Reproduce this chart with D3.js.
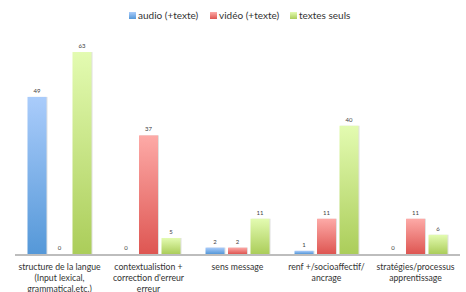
<!DOCTYPE html>
<html>
<head>
<meta charset="utf-8">
<script src="https://cdn.jsdelivr.net/npm/d3@7"></script>
<style>
  body { margin: 0; background: #fff; }
  svg { display: block; }
  text { font-family: Lato, "Liberation Sans", sans-serif; }
</style>
</head>
<body>
<script>
// data
var categories = [
    ["structure de la langue", "(Input lexical,", "grammatical.etc.)"],
    ["contextualistion +", "correction d'erreur", "erreur"],
    ["sens message"],
    ["renf +/socioaffectif/", "ancrage"],
    ["stratégies/processus", "apprentissage"]
]
var seriesNames = ["audio (+texte)", "vidéo (+texte)", "textes seuls"]
var audio = [49, 0, 2, 1, 0]
var video = [0, 37, 2, 11, 11]
var textes = [63, 5, 11, 40, 6]

var W = 466, H = 292
var seriesValues = [audio, video, textes]
var colTop = ["#aaccfb", "#fdaaa7", "#e3fbb1"]
var colBot = ["#5598d8", "#de5652", "#abcd5a"]

var svg = d3.select("body").append("svg").attr("width", W).attr("height", H)

var defs = svg.append("defs")
seriesNames.forEach(function(s, i) {
    var g = defs.append("linearGradient").attr("id", "grad" + i)
        .attr("x1", 0).attr("y1", 0).attr("x2", 0).attr("y2", 1)
    g.append("stop").attr("offset", "0%").attr("stop-color", colTop[i])
    g.append("stop").attr("offset", "100%").attr("stop-color", colBot[i])
})

var x0 = d3.scaleBand().domain(d3.range(categories.length)).range([15, 460])
var bw0 = x0.bandwidth()
var x1 = d3.scaleBand().domain(d3.range(3))
    .range([bw0 / 2 - 32, bw0 / 2 + 32]).paddingInner(0.155)
var y = d3.scaleLinear().domain([0, 70]).range([254, 254 - 70 * 3.206])

// rows: one per group
var rows = categories.map(function(c, i) {
    return seriesValues.map(function(v, k) { return {cat: i, s: k, v: v[i]} })
})

var groups = svg.selectAll("g.grp").data(rows).enter().append("g")
    .attr("class", "grp")
    .attr("transform", function(d, i) { return "translate(" + x0(i) + ",0)" })

groups.selectAll("rect").data(function(d) { return d }).enter()
    .append("rect")
    .attr("x", function(d) { return x1(d.s) })
    .attr("width", x1.bandwidth())
    .attr("y", function(d) { return y(d.v) })
    .attr("height", function(d) { return y(0) - y(d.v) })
    .attr("fill", function(d) { return "url(#grad" + d.s + ")" })
    .style("filter", "drop-shadow(1px 0px 0.6px rgba(0,0,0,0.12))")

groups.selectAll("text.val").data(function(d) { return d }).enter()
    .append("text").attr("class", "val")
    .attr("x", function(d) { return x1(d.s) + x1.bandwidth() / 2 })
    .attr("y", function(d) { return y(d.v) - 4 })
    .attr("text-anchor", "middle")
    .attr("font-size", 6)
    .attr("fill", "#404040")
    .text(function(d) { return d.v })

// axis line
svg.append("line")
    .attr("x1", 15).attr("x2", 460)
    .attr("y1", y(0) + 1).attr("y2", y(0) + 1)
    .attr("stroke", "#bdbdbd").attr("stroke-width", 2)

// category labels (third line runs off the bottom, as in the original)
var lab = svg.selectAll("text.cat").data(categories).enter()
    .append("text").attr("class", "cat")
    .attr("text-anchor", "middle")
    .attr("font-size", 8.7)
    .attr("fill", "#333")
lab.selectAll("tspan").data(function(d, i) {
        return d.map(function(t) { return {t: t, i: i} })
    }).enter().append("tspan")
    .attr("x", function(d) { return x0(d.i) + bw0 / 2 })
    .attr("y", function(d, j) { return 269.5 + j * 11.3 })
    .text(function(d) { return d.t })

// legend
var legX = [129, 210, 290]
var leg = svg.selectAll("g.leg").data(seriesNames).enter().append("g")
    .attr("class", "leg")
    .attr("transform", function(d, i) { return "translate(" + legX[i] + ",12)" })
leg.append("rect").attr("width", 7).attr("height", 7)
    .attr("fill", function(d, i) { return "url(#grad" + i + ")" })
leg.append("text").attr("x", 9).attr("y", 7).attr("font-size", 10)
    .attr("fill", "#333")
    .text(function(d) { return d })
</script>
</body>
</html>
